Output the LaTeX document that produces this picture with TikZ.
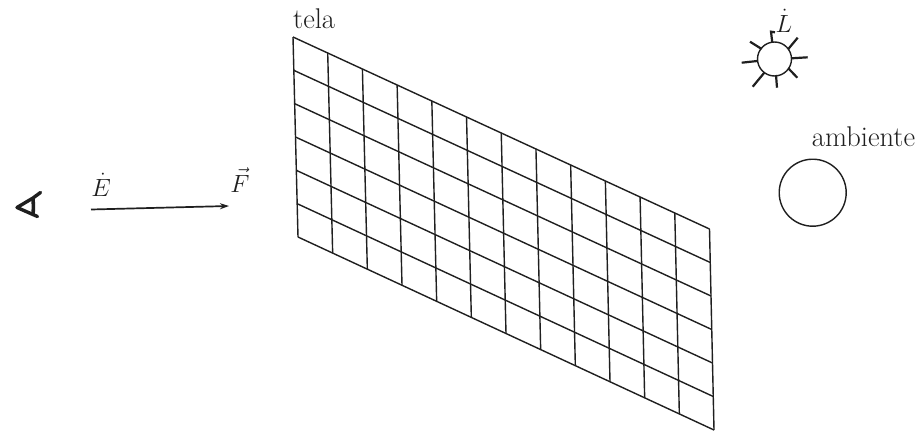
\documentclass[tikz,border=0pt]{standalone}
\usetikzlibrary{arrows.meta,calc}
\definecolor{ink}{gray}{0.12}
\tikzset{
  gridline/.style={draw=ink,line width=1.4pt},
  thinring/.style={draw=ink,line width=1.4pt},
  ray/.style={draw=ink,line width=2.2pt},
  lbl/.style={inner sep=0pt,text=ink,font=\fontsize{28.5}{32}\selectfont}
}
\begin{document}
\begin{tikzpicture}[x=1pt,y=-1pt]
\useasboundingbox (0,0) rectangle (918,431);
\fill[white] (0,0) rectangle (918,431);
% screen grid
\coordinate (tl) at (293,37);
\coordinate (tr) at (709.5,229);
\coordinate (bl) at (298,237);
\coordinate (br) at (714,430);
\foreach \i in {0,...,12}{
  \draw[gridline] ($(tl)!\i/12!(tr)$) -- ($(bl)!\i/12!(br)$);
}
\foreach \j in {0,...,6}{
  \draw[gridline] ($(tl)!\j/6!(bl)$) -- ($(tr)!\j/6!(br)$);
}
\node[lbl,anchor=base west] (tela) at (293,28) {tela};
% eye
\draw[draw=ink,line width=3.4pt,line join=round,line cap=round] (40.5,192.5) -- (33,198) -- (17,207.5) -- (37.5,216.5);
\draw[draw=ink,line width=3.6pt,line cap=round] (33,199) .. controls (33.5,205) and (33.5,209) .. (33,214);
% arrow
\coordinate (ea) at (91,209.5);
\coordinate (fa) at (229,206);
\draw[draw=ink,line width=1.7pt,-{Stealth[length=9pt,width=6pt]}] (ea) -- (fa);
\node[lbl,anchor=base] (E) at (101,196) {$\dot{E}$};
\node[lbl,anchor=base] (F) at (240,192) {$\vec{F}$};
% sun
\node[thinring,circle,minimum size=34pt,inner sep=0pt] (sun) at (774.5,59) {};
\draw[ray] (772.3,42.7) -- (771,31.7) -- (775,32.3);
\draw[ray] (761.7,49) -- (750,41.7);
\draw[ray] (757.3,61) -- (741.7,62.7);
\draw[ray] (764.3,72.7) -- (752.7,86.7);
\draw[ray] (776,75) -- (777,87.7);
\draw[ray] (788.3,68.3) -- (797.3,77.7);
\draw[ray] (791.7,58.3) -- (807.7,57.3);
\draw[ray] (788.3,49) -- (797.7,37.7);
\node[lbl,anchor=base] (L) at (784,32) {$\dot{L}$};
% ambient
\node[thinring,circle,minimum size=67pt,inner sep=0pt] (amb) at (812.7,192.7) {};
\node[lbl,anchor=base] (ambl) at (863.5,146) {ambiente};
\end{tikzpicture}
\end{document}
